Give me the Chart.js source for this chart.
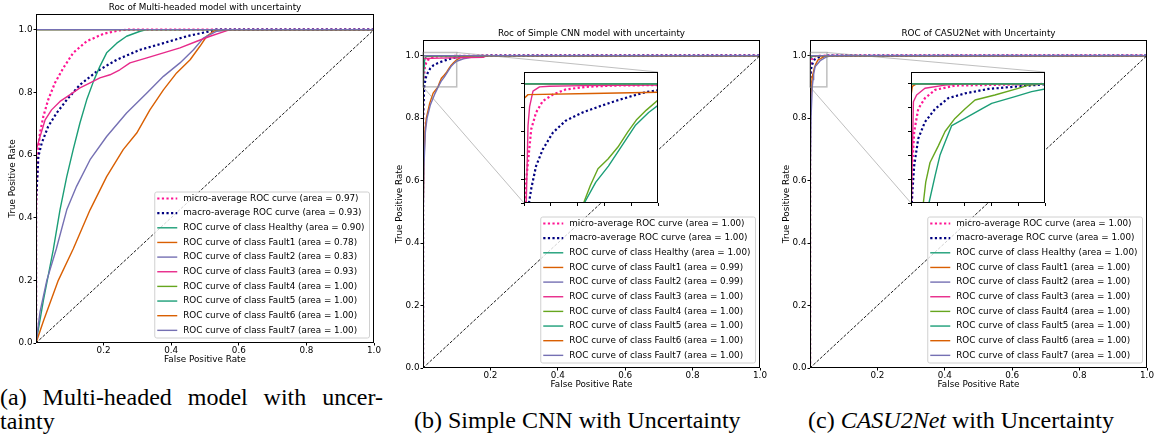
<!DOCTYPE html>
<html lang="en">

<head>
    <meta charset="UTF-8">
    <title>ROC curves</title>
    <style>
        body { margin: 0; background: #fff; }
        #fig { position: relative; width: 1158px; height: 435px; overflow: hidden; }
        #fig canvas { position: absolute; }
        .inset { z-index: 2; }
        .cap { position: absolute; font-family: "Liberation Serif", serif; font-size: 24px; line-height: 24px; color: #000; white-space: nowrap; }
    </style>
</head>

<body>
    <div id="fig">
        <canvas id="chartA" width="382" height="365" style="left:0px;top:0px"></canvas>
        <canvas id="chartB" width="383" height="364" style="left:385px;top:26px"></canvas>
        <canvas id="chartC" width="383" height="364" style="left:772px;top:26px"></canvas>
        <canvas id="insetB" class="inset" width="138" height="135" style="left:521px;top:71px"></canvas>
        <canvas id="insetC" class="inset" width="138" height="135" style="left:908px;top:71px"></canvas>

        <div class="cap" style="left:0px;top:385px;width:383px;text-align:justify;text-align-last:justify;">(a) Multi-headed model with uncer-</div>
        <div class="cap" style="left:0px;top:409px;">tainty</div>
        <div class="cap" style="left:414px;top:408px;">(b) Simple CNN with Uncertainty</div>
        <div class="cap" style="left:808px;top:408px;">(c) <i>CASU2Net</i> with Uncertainty</div>
    </div>

    <script src="https://cdn.jsdelivr.net/npm/chart.js@4.4.0/dist/chart.umd.min.js"></script>
    <script>
        const classNames = ['Healthy', 'Fault1', 'Fault2', 'Fault3', 'Fault4', 'Fault5', 'Fault6', 'Fault7'];
        const palette = ['#1b9e77', '#d95f02', '#7570b3', '#e7298a', '#66a61e'];
        const xTicks = [0.2, 0.4, 0.6, 0.8, 1.0];
        const yTicks = [0.0, 0.2, 0.4, 0.6, 0.8, 1.0];
        const insetYTicks = [0.9, 0.92, 0.94, 0.96, 0.98, 1.0];

        // classes with area 1.00 and the chance line
        const perfectFpr = [0, 0, 1];
        const perfectTpr = [0, 1, 1];
        const diagFpr = [0, 1];
        const diagTpr = [0, 1];

        // (a) multi-headed model
        const aAreas = [0.97, 0.93, 0.90, 0.78, 0.83, 0.93, 1.00, 1.00, 1.00, 1.00];
        const aMicroFpr = [0, 0, 0.002, 0.0068, 0.0118, 0.0217, 0.036, 0.056, 0.081, 0.11, 0.15, 0.2, 0.248, 0.27, 1];
        const aMicroTpr = [0, 0.42, 0.5, 0.617, 0.67, 0.723, 0.776, 0.83, 0.878, 0.926, 0.963, 0.987, 0.998, 1, 1];
        const aMacroFpr = [0, 0, 0.004, 0.007, 0.017, 0.036, 0.061, 0.091, 0.13, 0.18, 0.239, 0.308, 0.377, 0.446, 0.515, 0.53, 1];
        const aMacroTpr = [0, 0.45, 0.53, 0.595, 0.638, 0.691, 0.734, 0.776, 0.824, 0.867, 0.904, 0.936, 0.957, 0.979, 0.995, 1, 1];
        const aHealthyFpr = [0, 0.022, 0.051, 0.071, 0.091, 0.11, 0.13, 0.15, 0.17, 0.189, 0.209, 0.239, 0.268, 0.308, 0.327, 1];
        const aHealthyTpr = [0, 0.137, 0.297, 0.425, 0.531, 0.617, 0.702, 0.776, 0.835, 0.883, 0.926, 0.957, 0.979, 0.995, 1, 1];
        const aFault1Fpr = [0, 0.022, 0.066, 0.11, 0.16, 0.209, 0.258, 0.298, 0.337, 0.377, 0.416, 0.456, 0.485, 0.505, 0.525, 0.54, 1];
        const aFault1Tpr = [0, 0.07, 0.2, 0.3, 0.425, 0.531, 0.617, 0.67, 0.744, 0.808, 0.862, 0.904, 0.947, 0.979, 0.995, 1, 1];
        const aFault2Fpr = [0, 0.012, 0.032, 0.06, 0.091, 0.12, 0.16, 0.209, 0.268, 0.328, 0.377, 0.426, 0.466, 0.495, 0.535, 0.584, 1];
        const aFault2Tpr = [0, 0.1, 0.2, 0.3, 0.425, 0.5, 0.585, 0.659, 0.734, 0.798, 0.851, 0.894, 0.936, 0.973, 0.995, 1, 1];
        const aFault3Fpr = [0, 0, 0.002, 0.012, 0.027, 0.046, 0.071, 0.1, 0.13, 0.16, 0.189, 0.219, 0.248, 0.278, 0.328, 0.377, 0.426, 0.476, 0.515, 0.554, 0.574, 1];
        const aFault3Tpr = [0, 0.45, 0.617, 0.659, 0.712, 0.744, 0.771, 0.792, 0.814, 0.83, 0.846, 0.856, 0.872, 0.894, 0.91, 0.926, 0.942, 0.963, 0.979, 0.993, 1, 1];

        // (b) simple CNN
        const bAreas = [1.00, 1.00, 1.00, 0.99, 0.99, 1.00, 1.00, 1.00, 1.00, 1.00];
        const bMicroFpr = [0, 0, 0.0005, 0.0017, 0.0037, 0.0054, 0.009, 0.014, 0.0215, 0.031, 0.046, 0.066, 0.1, 0.2, 1];
        const bMicroTpr = [0, 0.5, 0.9, 0.92, 0.9425, 0.962, 0.976, 0.9856, 0.991, 0.9953, 0.9975, 0.9986, 0.999, 1, 1];
        const bMacroFpr = [0, 0, 0.0037, 0.0054, 0.009, 0.014, 0.0215, 0.031, 0.0437, 0.056, 0.068, 0.081, 0.0906, 0.1, 0.15, 0.2, 1];
        const bMacroTpr = [0, 0.8, 0.9, 0.912, 0.931, 0.945, 0.959, 0.969, 0.976, 0.981, 0.9856, 0.99, 0.993, 0.9947, 0.998, 1, 1];
        const bHealthyFpr = [0, 0, 0.0017, 0.003, 0.0042, 0.0067, 0.0116, 0.019, 0.044, 0.1, 0.15, 1];
        const bHealthyTpr = [0, 0.85, 0.9, 0.965, 0.981, 0.994, 0.9975, 0.998, 0.9986, 0.999, 1, 1];
        const bFault1Fpr = [0, 0, 0.003, 0.006, 0.0098, 0.02, 0.03, 0.0445, 0.0495, 0.0552, 0.0627, 0.0701, 0.0776, 0.0838, 0.0913, 0.1, 0.114, 0.188, 1];
        const bFault1Tpr = [0, 0.474, 0.666, 0.762, 0.8, 0.848, 0.88, 0.9, 0.9147, 0.9287, 0.937, 0.947, 0.96, 0.9696, 0.978, 0.9865, 0.996, 1, 1];
        const bFault2Fpr = [0, 0, 0.003, 0.007, 0.012, 0.022, 0.034, 0.045, 0.0536, 0.063, 0.073, 0.083, 0.093, 0.1, 0.12, 0.15, 0.19, 1];
        const bFault2Tpr = [0, 0.45, 0.65, 0.755, 0.8, 0.843, 0.875, 0.9, 0.9175, 0.931, 0.948, 0.965, 0.976, 0.982, 0.99, 0.996, 1, 1];
        const bFault3Fpr = [0, 0, 0.0005, 0.003, 0.05, 0.1, 0.18, 0.19, 1];
        const bFault3Tpr = [0, 0.87, 0.988, 0.991, 0.992, 0.993, 0.995, 1, 1];

        // (c) CASU2Net
        const cAreas = [1.00, 1.00, 1.00, 1.00, 1.00, 1.00, 1.00, 1.00, 1.00, 1.00];
        const cMicroFpr = [0, 0, 0.00025, 0.0005, 0.0012, 0.0027, 0.0052, 0.009, 0.0164, 0.05, 1];
        const cMicroTpr = [0, 0.6, 0.9, 0.9315, 0.96, 0.979, 0.988, 0.995, 0.9986, 1, 1];
        const cMacroFpr = [0, 0, 0.0003, 0.0005, 0.0012, 0.0027, 0.0052, 0.009, 0.0139, 0.0201, 0.0289, 0.0388, 0.05, 0.06, 1];
        const cMacroTpr = [0, 0.85, 0.9, 0.909, 0.9315, 0.954, 0.968, 0.979, 0.988, 0.992, 0.9958, 0.9977, 0.9997, 1, 1];
        const cHealthyFpr = [0, 0, 0.0003, 0.0009, 0.0021, 0.0052, 0.0127, 0.02, 1];
        const cHealthyTpr = [0, 0.85, 0.9, 0.985, 0.9907, 0.9963, 0.999, 1, 1];
        const cFault1Fpr = [0, 0, 0.002, 0.0046, 0.0055, 0.0071, 0.0102, 0.0127, 0.0164, 0.0201, 0.0239, 0.0313, 0.04, 0.0438, 0.05, 1];
        const cFault1Tpr = [0, 0.6, 0.85, 0.9, 0.9175, 0.934, 0.948, 0.96, 0.971, 0.979, 0.9865, 0.9907, 0.9963, 0.999, 1, 1];
        const cFault2Fpr = [0, 0, 0.003, 0.0067, 0.009, 0.0108, 0.0127, 0.0152, 0.0201, 0.0264, 0.0301, 0.0388, 0.045, 0.05, 0.065, 1];
        const cFault2Tpr = [0, 0.55, 0.8, 0.9, 0.923, 0.94, 0.951, 0.965, 0.971, 0.979, 0.9837, 0.9893, 0.9935, 0.9958, 1, 1];
        const cFault3Fpr = [0, 0, 0.0005, 0.002, 1];
        const cFault3Tpr = [0, 0.99, 0.998, 1, 1];

        const aCurves = [[aMicroFpr, aMicroTpr], [aMacroFpr, aMacroTpr], [aHealthyFpr, aHealthyTpr],
            [aFault1Fpr, aFault1Tpr], [aFault2Fpr, aFault2Tpr], [aFault3Fpr, aFault3Tpr],
            [perfectFpr, perfectTpr], [perfectFpr, perfectTpr], [perfectFpr, perfectTpr], [perfectFpr, perfectTpr]];
        const bCurves = [[bMicroFpr, bMicroTpr], [bMacroFpr, bMacroTpr], [bHealthyFpr, bHealthyTpr],
            [bFault1Fpr, bFault1Tpr], [bFault2Fpr, bFault2Tpr], [bFault3Fpr, bFault3Tpr],
            [perfectFpr, perfectTpr], [perfectFpr, perfectTpr], [perfectFpr, perfectTpr], [perfectFpr, perfectTpr]];
        const cCurves = [[cMicroFpr, cMicroTpr], [cMacroFpr, cMacroTpr], [cHealthyFpr, cHealthyTpr],
            [cFault1Fpr, cFault1Tpr], [cFault2Fpr, cFault2Tpr], [cFault3Fpr, cFault3Tpr],
            [perfectFpr, perfectTpr], [perfectFpr, perfectTpr], [perfectFpr, perfectTpr], [perfectFpr, perfectTpr]];

        Chart.defaults.font.family = '"DejaVu Sans", sans-serif';
        Chart.defaults.font.size = 8.8;
        Chart.defaults.color = '#000';

        function toPoints(fpr, tpr) {
            return fpr.map((x, i) => ({ x: x, y: tpr[i] }));
        }

        // colorShift: the zoomed insets cycle the class colours from another start
        function buildDatasets(curves, areas, colorShift, withLabels) {
            const sets = curves.map((c, i) => {
                let label, color, dash = [], width = 1.4;
                if (i === 0) {
                    label = 'micro-average ROC curve (area = ' + areas[0].toFixed(2) + ')';
                    color = '#ff1493'; dash = [2.2, 2.4]; width = 2.2;
                } else if (i === 1) {
                    label = 'macro-average ROC curve (area = ' + areas[1].toFixed(2) + ')';
                    color = '#000080'; dash = [2.2, 2.4]; width = 2.2;
                } else {
                    label = 'ROC curve of class ' + classNames[i - 2] + ' (area = ' + areas[i].toFixed(2) + ')';
                    color = palette[(i - 2 + colorShift) % palette.length];
                }
                return {
                    label: withLabels ? label : undefined,
                    data: toPoints(c[0], c[1]),
                    showLine: true, fill: false, pointRadius: 0,
                    borderColor: color, backgroundColor: color,
                    borderWidth: width, borderDash: dash,
                    borderCapStyle: 'butt', borderJoinStyle: 'round',
                    order: -i
                };
            });
            sets.push({
                data: toPoints(diagFpr, diagTpr),
                showLine: true, fill: false, pointRadius: 0,
                borderColor: '#000', borderWidth: 0.9, borderDash: [3, 1.6],
                order: -curves.length
            });
            return sets;
        }

        function zeroPad(ax) {
            ax.paddingLeft = 0; ax.paddingRight = 0; ax.paddingTop = 0; ax.paddingBottom = 0;
        }

        const framePlugin = {
            id: 'frame',
            afterDatasetsDraw(chart) {
                const { ctx, chartArea: a } = chart;
                ctx.save();
                ctx.strokeStyle = '#000';
                ctx.lineWidth = 1;
                ctx.strokeRect(a.left + 0.5, a.top + 0.5, a.right - a.left - 1, a.bottom - a.top - 1);
                ctx.restore();
            }
        };

        const whiteBg = {
            id: 'whiteBg',
            beforeDatasetsDraw(chart) {
                const { ctx, chartArea: a } = chart;
                ctx.save();
                ctx.fillStyle = '#fff';
                ctx.fillRect(a.left, a.top, a.right - a.left, a.bottom - a.top);
                ctx.restore();
            }
        };

        // matplotlib style legend in the lower right corner of the axes
        const innerLegend = {
            id: 'innerLegend',
            afterDraw(chart) {
                const { ctx, chartArea: a } = chart;
                const items = chart.data.datasets.filter(d => d.label);
                const rowH = 14.65;
                ctx.save();
                ctx.font = '8.8px "DejaVu Sans", sans-serif';
                const textW = Math.max(...items.map(d => ctx.measureText(d.label).width));
                const w = 29 + textW + 4.5;
                const h = items.length * rowH - 0.5;
                const x = a.right - 5 - w;
                const y = a.bottom - 5.5 - h;
                ctx.beginPath();
                ctx.roundRect(x + 0.5, y + 0.5, w, h, 2);
                ctx.fillStyle = 'rgba(255,255,255,0.8)';
                ctx.fill();
                ctx.strokeStyle = '#d0d0d0';
                ctx.lineWidth = 1;
                ctx.stroke();
                items.forEach((d, i) => {
                    const cy = y + 7 + i * rowH;
                    ctx.beginPath();
                    ctx.setLineDash(d.borderDash || []);
                    ctx.lineWidth = d.borderWidth;
                    ctx.strokeStyle = d.borderColor;
                    ctx.moveTo(x + 3, cy);
                    ctx.lineTo(x + 23, cy);
                    ctx.stroke();
                    ctx.setLineDash([]);
                    ctx.fillStyle = '#000';
                    ctx.textBaseline = 'middle';
                    ctx.fillText(d.label, x + 29, cy);
                });
                ctx.restore();
            }
        };

        // grey box around the zoomed region plus the two connector lines
        function zoomMark(inset, xMax, yMin, yMax) {
            return {
                id: 'zoomMark',
                afterDatasetsDraw(chart) {
                    const { ctx, scales: { x, y } } = chart;
                    const ia = inset.chartArea;
                    const dx = inset.canvas.offsetLeft - chart.canvas.offsetLeft;
                    const dy = inset.canvas.offsetTop - chart.canvas.offsetTop;
                    const x0 = x.getPixelForValue(0), x1 = x.getPixelForValue(xMax);
                    const y0 = y.getPixelForValue(yMin), y1 = y.getPixelForValue(yMax);
                    ctx.save();
                    ctx.strokeStyle = 'rgba(128,128,128,0.5)';
                    ctx.lineWidth = 1.5;
                    ctx.strokeRect(x0, y1, x1 - x0, y0 - y1);
                    ctx.lineWidth = 1;
                    ctx.beginPath();
                    ctx.moveTo(x1, y1);
                    ctx.lineTo(dx + ia.right, dy + ia.top);
                    ctx.moveTo(x0, y0);
                    ctx.lineTo(dx + ia.left, dy + ia.bottom);
                    ctx.stroke();
                    ctx.restore();
                }
            };
        }

        function makeMain(id, titleText, yAxisWidth, yTitlePad, datasets, extra) {
            return new Chart(document.getElementById(id), {
                type: 'scatter',
                data: { datasets: datasets },
                options: {
                    responsive: false,
                    animation: false,
                    devicePixelRatio: 1,
                    layout: { padding: { right: 8 } },
                    elements: { line: { tension: 0 } },
                    plugins: {
                        legend: { display: false },
                        tooltip: { enabled: false },
                        title: {
                            display: true, text: titleText, fullSize: false,
                            font: { size: 8.8, weight: 'normal' },
                            padding: { top: 2.5, bottom: 0.94 }
                        }
                    },
                    scales: {
                        x: {
                            type: 'linear', min: 0, max: 1,
                            afterBuildTicks: ax => { ax.ticks = xTicks.map(v => ({ value: v })); },
                            afterFit: ax => { ax.height = 22; zeroPad(ax); },
                            ticks: { callback: v => v.toFixed(1), padding: 0, maxRotation: 0, autoSkip: false },
                            grid: { drawOnChartArea: false, drawTicks: true, tickLength: 2.5, tickColor: '#000', tickWidth: 1 },
                            border: { display: false },
                            title: { display: true, text: 'False Positive Rate', padding: { top: 0, bottom: 0.4 } }
                        },
                        y: {
                            type: 'linear', min: 0, max: 1.05,
                            afterBuildTicks: ax => { ax.ticks = yTicks.map(v => ({ value: v })); },
                            afterFit: ax => { ax.width = yAxisWidth; zeroPad(ax); },
                            ticks: { callback: v => v.toFixed(1), padding: 1, autoSkip: false },
                            grid: { drawOnChartArea: false, drawTicks: true, tickLength: 2.5, tickColor: '#000', tickWidth: 1 },
                            border: { display: false },
                            title: { display: true, text: 'True Positive Rate', padding: { top: yTitlePad, bottom: 0 } }
                        }
                    }
                },
                plugins: [framePlugin].concat(extra || [], [innerLegend])
            });
        }

        function makeInset(id, datasets, xMax) {
            const xt = [0, 1, 2, 3, 4, 5].map(k => xMax * k / 5);
            return new Chart(document.getElementById(id), {
                type: 'scatter',
                data: { datasets: datasets },
                options: {
                    responsive: false,
                    animation: false,
                    devicePixelRatio: 1,
                    layout: { padding: { top: 1, right: 1 } },
                    elements: { line: { tension: 0 } },
                    plugins: { legend: { display: false }, tooltip: { enabled: false }, title: { display: false } },
                    scales: {
                        x: {
                            type: 'linear', min: 0, max: xMax,
                            afterBuildTicks: ax => { ax.ticks = xt.map(v => ({ value: v })); },
                            afterFit: ax => { ax.height = 3; zeroPad(ax); },
                            ticks: { display: false },
                            grid: { drawOnChartArea: false, drawTicks: true, tickLength: 3, tickColor: '#000', tickWidth: 1 },
                            border: { display: false }
                        },
                        y: {
                            type: 'linear', min: 0.9, max: 1.01,
                            afterBuildTicks: ax => { ax.ticks = insetYTicks.map(v => ({ value: v })); },
                            afterFit: ax => { ax.width = 3; zeroPad(ax); },
                            ticks: { display: false },
                            grid: { drawOnChartArea: false, drawTicks: true, tickLength: 3, tickColor: '#000', tickWidth: 1 },
                            border: { display: false }
                        }
                    }
                },
                plugins: [whiteBg, framePlugin]
            });
        }

        const insetB = makeInset('insetB', buildDatasets(bCurves, bAreas, 3, false), 0.1);
        const insetC = makeInset('insetC', buildDatasets(cCurves, cAreas, 3, false), 0.05);

        makeMain('chartA', 'Roc of Multi-headed model with uncertainty', 36, 7.7,
            buildDatasets(aCurves, aAreas, 0, true));
        makeMain('chartB', 'Roc of Simple CNN model with uncertainty', 38, 9.7,
            buildDatasets(bCurves, bAreas, 0, true), [zoomMark(insetB, 0.1, 0.9, 1.01)]);
        makeMain('chartC', 'ROC of CASU2Net with Uncertainty', 38, 9.4,
            buildDatasets(cCurves, cAreas, 0, true), [zoomMark(insetC, 0.05, 0.9, 1.01)]);
    </script>

</body>

</html>
